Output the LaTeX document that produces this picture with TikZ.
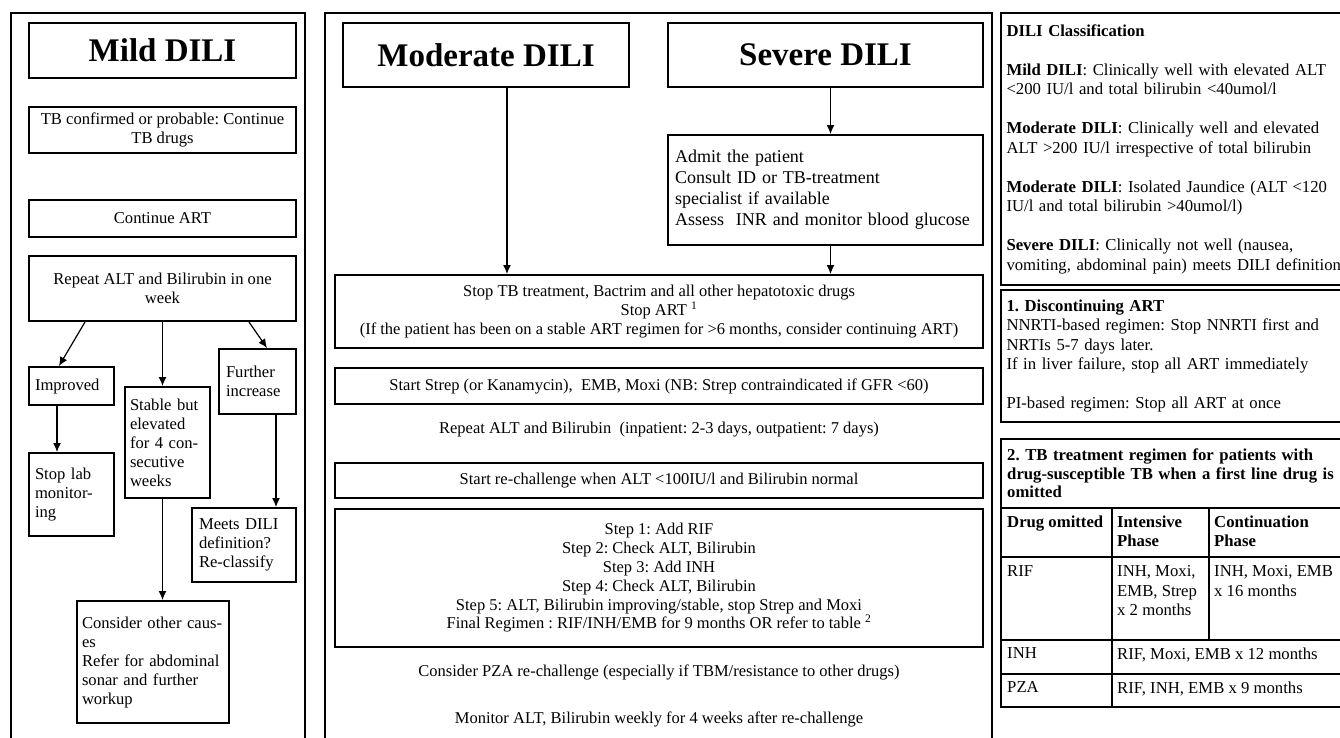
\documentclass[tikz,border=0pt]{standalone}
\usepackage{fontspec}
\setmainfont{Liberation Serif}
\frenchspacing
\usetikzlibrary{arrows.meta,calc,positioning}
\newcommand{\leftfont}{\fontsize{16.6}{19}\selectfont}
\newcommand{\midfont}{\fontsize{16.5}{18.6}\selectfont}
\newcommand{\admitfont}{\fontsize{18}{21}\selectfont}
\newcommand{\rightfont}{\fontsize{16.7}{19.5}\selectfont}
\tikzset{
        panel/.style = {draw, line width=1.2pt},
        head/.style = {draw, rectangle, line width=2pt, inner sep=0pt,
            font=\fontsize{33}{38}\selectfont\bfseries},
        block/.style = {draw, rectangle, line width=2pt, inner sep=0pt,
            align=center, font=\midfont},
        lblock/.style = {block, align=left, font=\leftfont},
        note/.style = {inner sep=0pt, align=center, font=\midfont},
        rbox/.style = {draw, rectangle, line width=2pt, inner sep=0pt,
            align=left, font=\rightfont, text width=338pt, minimum width=349pt},
        cell/.style = {inner sep=0pt, anchor=north west, align=left, font=\rightfont},
        arrow/.style = {draw, -{Latex[length=9pt,width=8pt]}, line width=1.2pt},
    }

\begin{document}
\begin{tikzpicture}[x=1pt, y=-1pt]
\useasboundingbox (0,0) rectangle (1340,737);
\clip (0,0) rectangle (1340,737);

% mild
\draw[panel] (11,13) rectangle (305,760);
\node[head, minimum width=267pt, minimum height=55pt] (mild) at (162.5,50.5) {Mild DILI};
\node[block, font=\leftfont, minimum width=267pt, minimum height=46pt] (tbconf) at (162.5,130)
    {TB confirmed or probable: Continue\\TB drugs};
\node[block, font=\leftfont, minimum width=267pt, minimum height=37pt] (contart) at (162.5,218.5) {Continue ART};
\node[block, font=\leftfont, minimum width=267pt, minimum height=65pt] (repalt) at (162.5,288.5)
    {Repeat ALT and Bilirubin in one\\week};
\node[lblock, minimum width=85pt, minimum height=38pt, text width=73pt] (improved) at (71.5,386) {Improved};
\node[lblock, minimum width=85pt, minimum height=111pt, text width=75pt] (stable) at (167.5,442.5)
    {Stable but\\elevated\\for 4 con-\\secutive\\weeks};
\node[lblock, minimum width=77pt, minimum height=65pt, text width=63pt] (further) at (257.5,381.5)
    {Further\\increase};
\node[lblock, minimum width=85pt, minimum height=83pt, text width=73pt] (stoplab) at (71.5,494.5)
    {Stop lab\\monitor-\\ing};
\node[lblock, minimum width=104pt, minimum height=74pt, text width=90pt] (meets) at (244,545)
    {Meets DILI\\definition?\\Re-classify};
\node[lblock, minimum width=152pt, minimum height=122pt, text width=142pt] (consider) at (153,662)
    {Consider other caus-\\es\\Refer for abdominal\\sonar and further\\workup};

\draw[arrow] ($(repalt.south west)+(57,0)$) -- ($(improved.north west)+(31,0)$);
\draw[arrow] (repalt.south) -- (repalt.south |- stable.north);
\draw[arrow] ($(repalt.south east)+(-48,0)$) -- ($(further.north west)+(49,0)$);
\draw[arrow] ($(improved.south west)+(29,0)$) -- ($(stoplab.north west)+(29,0)$);
\draw[arrow] (repalt.south |- stable.south) -- (repalt.south |- consider.north);
\draw[arrow] ($(further.south west)+(58,0)$) -- ($(meets.north west)+(85,0)$);

% moderate and severe
\draw[panel] (325,13) rectangle (992,760);
\node[head, minimum width=286pt, minimum height=64pt] (moderate) at (486,55) {Moderate DILI};
\node[head, minimum width=315pt, minimum height=64pt] (severe) at (825.5,55) {Severe DILI};
\node[block, align=left, font=\admitfont, minimum width=315pt, minimum height=110pt, text width=301pt]
    (admit) at (825.5,190)
    {Admit the patient\\Consult ID or TB-treatment\\specialist if available\\Assess\ \ INR and monitor blood glucose};
\node[block, minimum width=648pt, minimum height=73pt] (stoptb) at (659,311.5)
    {Stop TB treatment, Bactrim and all other hepatotoxic drugs\\
     Stop ART \textsuperscript{1}\\
     (If the patient has been on a stable ART regimen for >6 months, consider continuing ART)};
\node[block, minimum width=648pt, minimum height=36pt] (strep) at (659,386)
    {Start Strep (or Kanamycin),\ \ EMB, Moxi (NB: Strep contraindicated if GFR <60)};
\node[note] (repeat) at (659,430) {Repeat ALT and Bilirubin\ \ (inpatient: 2-3 days, outpatient: 7 days)};
\node[block, minimum width=648pt, minimum height=35pt] (rechal) at (659,480.5)
    {Start re-challenge when ALT <100IU/l and Bilirubin normal};
\node[block, font=\fontsize{16.5}{18.8}\selectfont, minimum width=648pt, minimum height=138pt] (steps) at (659,578)
    {Step 1: Add RIF\\Step 2: Check ALT, Bilirubin\\Step 3: Add INH\\Step 4: Check ALT, Bilirubin\\
     Step 5: ALT, Bilirubin improving/stable, stop Strep and Moxi\\
     Final Regimen : RIF/INH/EMB for 9 months OR refer to table \textsuperscript{2}};
\node[note] (pza) at (659,672) {Consider PZA re-challenge (especially if TBM/resistance to other drugs)};
\node[note] (monitor) at (659,719) {Monitor ALT, Bilirubin weekly for 4 weeks after re-challenge};

\coordinate (m1) at ($(moderate.south)+(21,0)$);
\coordinate (s1) at ($(severe.south)+(5,0)$);
\draw[arrow] (m1) -- (m1 |- stoptb.north);
\draw[arrow] (s1) -- (s1 |- admit.north);
\draw[arrow] (s1 |- admit.south) -- (s1 |- stoptb.north);

% notes
\node[rbox, minimum height=272pt] (classif) at (1175.5,149)
    {\textbf{DILI Classification}\\[19.5pt]
     \textbf{Mild DILI}: Clinically well with elevated ALT\\
     <200 IU/l and total bilirubin <40umol/l\\[19.5pt]
     \textbf{Moderate DILI}: Clinically well and elevated\\
     ALT >200 IU/l irrespective of total bilirubin\\[19.5pt]
     \textbf{Moderate DILI}: Isolated Jaundice (ALT <120\\
     IU/l and total bilirubin >40umol/l)\\[19.5pt]
     \textbf{Severe DILI}: Clinically not well (nausea,\\
     vomiting, abdominal pain) meets DILI definition};
\node[rbox, minimum height=132pt] (discont) at (1175.5,356)
    {\textbf{1. Discontinuing ART}\\
     NNRTI-based regimen: Stop NNRTI first and\\
     NRTIs 5-7 days later.\\
     If in liver failure, stop all ART immediately\\[19.5pt]
     PI-based regimen: Stop all ART at once};

% table 2
\draw[line width=2pt] (1001,439) rectangle (1350,707);
\draw[line width=1.6pt] (1001,508) -- (1350,508)
    (1001,557) -- (1350,557)
    (1001,640) -- (1350,640)
    (1001,674) -- (1350,674)
    (1112,508) -- (1112,707)
    (1209,508) -- (1209,640);
\node[cell, font=\fontsize{16.7}{18.6}\selectfont\bfseries, text width=330pt] (tabtitle) at (1007,448.5)
    {2. TB treatment regimen for patients with\\drug-susceptible TB when a first line drug is\\omitted};
\node[cell, font=\rightfont\bfseries] (hdrug) at (1007,515.5) {Drug omitted};
\node[cell, font=\rightfont\bfseries] (hint) at (1117,515.5) {Intensive\\Phase};
\node[cell, font=\rightfont\bfseries] (hcont) at (1214,515.5) {Continuation\\Phase};
\node[cell] (rif) at (1007,565.5) {RIF};
\node[cell] (rifint) at (1117,565.5) {INH, Moxi,\\EMB, Strep\\x 2 months};
\node[cell] (rifcont) at (1214,565.5) {INH, Moxi, EMB\\x 16 months};
\node[cell] (inh) at (1007,647.5) {INH};
\node[cell] (inhreg) at (1117,647.5) {RIF, Moxi, EMB x 12 months};
\node[cell] (pzad) at (1007,681.5) {PZA};
\node[cell] (pzareg) at (1117,681.5) {RIF, INH, EMB x 9 months};
\end{tikzpicture}
\end{document}
